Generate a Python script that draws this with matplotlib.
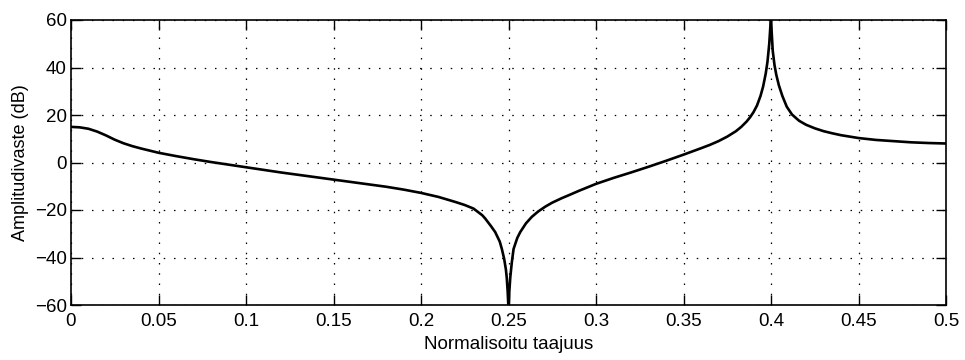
import matplotlib
matplotlib.use("Agg")
import matplotlib.pyplot as plt

plt.rcParams['font.family'] = ['Liberation Sans', 'DejaVu Sans']

# Normalised frequency samples
freq = [0.0, 0.005, 0.01, 0.015, 0.02, 0.025, 0.03, 0.035, 0.04, 0.05,
        0.06, 0.07, 0.08, 0.09, 0.1, 0.11, 0.12, 0.13, 0.14, 0.15,
        0.16, 0.17, 0.18, 0.19, 0.2, 0.21, 0.215, 0.22, 0.225, 0.23,
        0.235, 0.2367, 0.24, 0.2424, 0.245, 0.2462, 0.2475, 0.2485, 0.249, 0.2495,
        0.2499, 0.25, 0.2501, 0.2505, 0.251, 0.2519, 0.2529, 0.255, 0.2567, 0.26,
        0.2633, 0.267, 0.271, 0.275, 0.2805, 0.285, 0.29, 0.295, 0.3, 0.31,
        0.32, 0.33, 0.34, 0.35, 0.36, 0.365, 0.37, 0.375, 0.38, 0.383,
        0.386, 0.388, 0.39, 0.392, 0.394, 0.3955, 0.397, 0.398, 0.399, 0.3997,
        0.4, 0.4003, 0.401, 0.402, 0.403, 0.4045, 0.4065, 0.409, 0.412, 0.416,
        0.42, 0.425, 0.43, 0.435, 0.44, 0.45, 0.46, 0.47, 0.48, 0.49, 0.5]
# Amplitude response (dB)
amp_db = [15.0, 14.8, 14.2, 13.0, 11.4, 9.6, 8.1, 6.9, 5.9, 4.1,
          2.7, 1.4, 0.2, -0.9, -2.0, -3.1, -4.2, -5.2, -6.2, -7.2,
          -8.2, -9.2, -10.2, -11.4, -12.8, -14.5, -15.6, -16.7, -17.9, -19.4,
          -22.2, -23.6, -26.8, -29.3, -33.3, -36.4, -40.5, -45.0, -48.5, -54.0,
          -60.0, -60.0, -60.0, -54.0, -48.5, -42.0, -36.4, -31.8, -29.3, -25.6,
          -22.9, -20.6, -18.6, -16.9, -15.0, -13.6, -12.0, -10.5, -9.0, -6.5,
          -4.2, -1.8, 0.7, 3.3, 6.0, 7.4, 9.0, 10.9, 13.2, 15.0,
          17.2, 19.0, 21.2, 24.0, 28.0, 32.0, 37.5, 42.5, 50.0, 58.0,
          60.0, 56.0, 47.0, 41.0, 37.0, 32.5, 28.0, 23.5, 20.2, 17.6,
          15.9, 14.4, 13.2, 12.3, 11.5, 10.3, 9.5, 9.0, 8.5, 8.2, 8.0]

xticks = [0, 0.05, 0.1, 0.15, 0.2, 0.25, 0.3, 0.35, 0.4, 0.45, 0.5]
xticklabels = ['0', '0.05', '0.1', '0.15', '0.2', '0.25', '0.3', '0.35', '0.4', '0.45', '0.5']
yticks = [-60, -40, -20, 0, 20, 40, 60]
yticklabels = ['\u221260', '\u221240', '\u221220', '0', '20', '40', '60']

fig = plt.figure(figsize=(9.65, 3.6), dpi=100)
ax = fig.add_axes([71/965, 1 - 305/360, (946 - 71)/965, (305 - 20)/360])

ax.plot(freq, amp_db, color='black', linewidth=1.9, solid_joinstyle='round')

ax.set_xlim(0, 0.5)
ax.set_ylim(-60, 60)
ax.set_xticks(xticks)
ax.set_xticklabels(xticklabels)
ax.set_yticks(yticks)
ax.set_yticklabels(yticklabels)

ax.grid(True, color='black', linestyle=(0, (1.2, 7)), linewidth=0.9)
ax.tick_params(direction='in', length=7, width=1.0, top=True, right=True,
               labelsize=13.5, colors='black')
ax.tick_params(axis='x', pad=6)
ax.tick_params(axis='y', pad=3)
for s in ax.spines.values():
    s.set_linewidth(1.2)
    s.set_color('black')

ax.set_xlabel('Normalisoitu taajuus', fontsize=13.5, labelpad=4)
ax.set_ylabel('Amplitudivaste (dB)', fontsize=13, labelpad=4)

fig.savefig('out.png', dpi=100, facecolor='white')
